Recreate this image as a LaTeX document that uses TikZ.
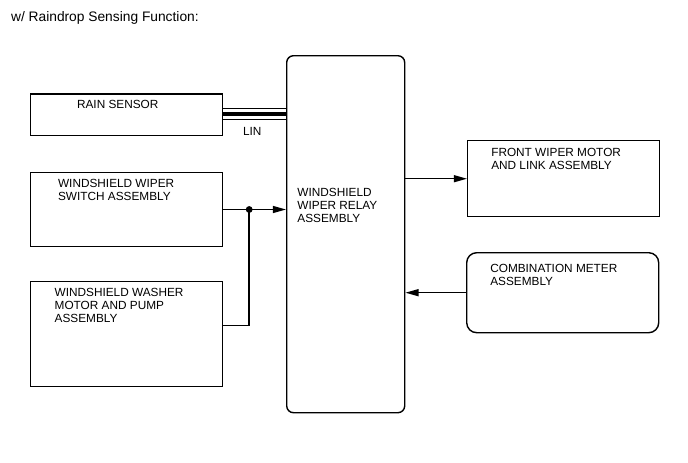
\documentclass[tikz,border=0pt]{standalone}
\usepackage{fontspec}
\setmainfont{Liberation Sans}
\usetikzlibrary{arrows.meta}
\usetikzlibrary{positioning}

\tikzset{
  unit/.style={draw, rectangle, line width=1pt, anchor=north west, inner sep=0pt},
  lbl/.style={anchor=north west, inner sep=0pt, align=left, font=\fontsize{8.4}{9.1}\selectfont},
  wire/.style={line width=1pt},
  arr/.style={line width=1pt, -{Triangle[length=3.3mm,width=1.75mm]}},
  dot/.style={circle, fill, inner sep=0pt, minimum size=1.7mm}
}

\begin{document}
\begin{tikzpicture}
\useasboundingbox (0,0) rectangle (17.2,-11.575);

\node[anchor=base west, inner sep=0pt, font=\fontsize{9.8}{12}\selectfont] (title) at (0.27,-0.54) {w/ Raindrop Sensing Function:};

\node[unit, minimum width=4.8cm, minimum height=1.04cm] (rain) at (0.75,-2.335) {};
\node[unit, minimum width=4.81cm, minimum height=1.86cm] (switch) at (0.74,-4.29) {};
\node[unit, minimum width=4.8cm, minimum height=2.625cm] (washer) at (0.75,-7.025) {};
\node[unit, rounded corners=0.17cm, minimum width=2.95cm, minimum height=8.925cm] (relay) at (7.15,-1.375) {};
\node[unit, minimum width=4.8cm, minimum height=1.9cm] (front) at (11.675,-3.5) {};
\node[unit, rounded corners=0.25cm, minimum width=4.8cm, minimum height=2cm] (meter) at (11.65,-6.3) {};

\node[lbl, below right=0.16cm and 1.17cm of rain.north west] (rainT) {RAIN SENSOR};
\node[lbl, below right=0.19cm and 0.705cm of switch.north west] (switchT) {WINDSHIELD WIPER\\SWITCH ASSEMBLY};
\node[lbl, below right=0.18cm and 0.61cm of washer.north west] (washerT) {WINDSHIELD WASHER\\MOTOR AND PUMP\\ASSEMBLY};
\node[lbl, below right=3.33cm and 0.28cm of relay.north west] (relayT) {WINDSHIELD\\WIPER RELAY\\ASSEMBLY};
\node[lbl, below right=0.21cm and 0.6cm of front.north west] (frontT) {FRONT WIPER MOTOR\\AND LINK ASSEMBLY};
\node[lbl, below right=0.3cm and 0.6cm of meter.north west] (meterT) {COMBINATION METER\\ASSEMBLY};

% LIN bus
\draw[wire, transform canvas={yshift=0.156cm}] (rain.east) -- (rain.east -| relay.west);
\draw[line width=3.3pt, transform canvas={yshift=0.024cm}] (rain.east) -- (rain.east -| relay.west);
\draw[wire, transform canvas={yshift=-0.119cm}] (rain.east) -- (rain.east -| relay.west);
\node[lbl] (lin) at (6.07,-3.18) {LIN};

% switch and washer inputs
\coordinate (jx) at (6.23,0);
\coordinate (wout) at ([yshift=0.2125cm]washer.east);
\node[dot] (jn) at (jx |- switch.east) {};
\draw[arr] (switch.east) -- (switch.east -| relay.west);
\draw[wire] (wout) -| (jn.center);

% outputs
\draw[arr] (front.west -| relay.east) -- (front.west);
\draw[arr] (meter.west) -- (meter.west -| relay.east);

\end{tikzpicture}
\end{document}
